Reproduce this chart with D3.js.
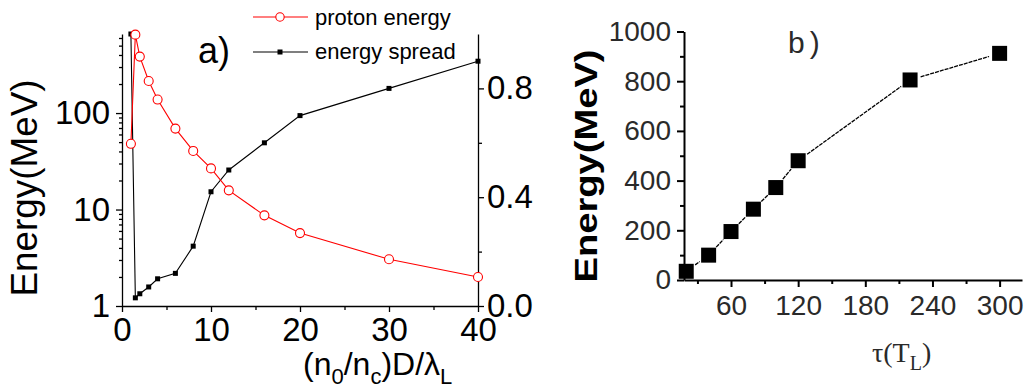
<!DOCTYPE html>
<html><head><meta charset="utf-8">
<script src="https://cdn.jsdelivr.net/npm/d3@7"></script>
<style>
html,body{margin:0;padding:0;background:#fff;}
svg{display:block;font-family:"Liberation Sans",Arial,sans-serif;}
</style></head><body>
<svg id="c" width="1029" height="392"></svg>
<script>
// ---- Panel a) data ----
const ratioX = [1, 1.5, 2, 3, 4, 6, 8, 10, 12, 16, 20, 30, 40];
const protonEnergy = [48, 650, 385, 215, 138, 69, 40.5, 26.7, 15.8, 8.7, 5.7, 3.05, 2.0];
const energySpread = [1.0, 0.03, 0.045, 0.07, 0.10, 0.12, 0.22, 0.42, 0.50, 0.60, 0.70, 0.80, 0.90];
const leftXTicks = [0, 10, 20, 30, 40];
const leftXMinor = [5, 15, 25, 35];
const leftYTicks = [1, 10, 100];
const leftYMinor = [2,3,4,5,6,7,8,9,20,30,40,50,60,70,80,90,200,300,400,500,600];
const rightYTicks = [0.0, 0.4, 0.8];
const rightYMinor = [0.2, 0.6];
const legendLabels = ["proton energy", "energy spread"];
// ---- Panel b) data ----
const pulseTau = [20, 40, 60, 80, 100, 120, 220, 300];
const pulseEnergy = [35, 100, 195, 285, 372, 480, 805, 912];
const tauTicks = [60, 120, 180, 240, 300];
const tauMinor = [30, 90, 150, 210, 270];
const energyTicks = [0, 200, 400, 600, 800, 1000];
const energyMinor = [100, 300, 500, 700, 900];

const svg = d3.select("#c");
const RED = "#ff0000";

// ================= Panel a =================
const xA = d3.scaleLinear().domain([0, 40]).range([122, 478]);
const yL = d3.scaleLog().domain([1, 660]).range([306, 34]);
const yR = d3.scaleLinear().domain([0, 1.0]).range([306, 34]);

const gA = svg.append("g");

function styleAxis(g, fs, sw) {
  g.select(".domain").attr("stroke", "#000").attr("stroke-width", sw);
  g.selectAll(".tick line").attr("stroke", "#000").attr("stroke-width", sw);
  g.selectAll(".tick text").attr("fill", "#000").style("font-size", fs + "px")
    .style("font-family", '"Liberation Sans",Arial,sans-serif');
}

// bottom axis
const axB = gA.append("g").attr("transform", "translate(0,306)")
  .call(d3.axisBottom(xA).tickValues(leftXTicks).tickSize(6).tickSizeOuter(0).tickPadding(6).tickFormat(d3.format("d")));
styleAxis(axB, 33, 1.3);
const axBm = gA.append("g").attr("transform", "translate(0,306)")
  .call(d3.axisBottom(xA).tickValues(leftXMinor).tickSize(4).tickSizeOuter(0).tickFormat(""));
styleAxis(axBm, 33, 1.3);
axBm.select(".domain").remove();

// left axis
const axL = gA.append("g").attr("transform", "translate(122,0)")
  .call(d3.axisLeft(yL).tickValues(leftYTicks).tickSize(6).tickSizeOuter(0).tickPadding(6).tickFormat(d3.format("d")));
styleAxis(axL, 33, 1.3);
const axLm = gA.append("g").attr("transform", "translate(122,0)")
  .call(d3.axisLeft(yL).tickValues(leftYMinor).tickSize(3).tickSizeOuter(0).tickFormat(""));
styleAxis(axLm, 33, 1.3);
axLm.select(".domain").remove();

// right axis
const axR = gA.append("g").attr("transform", "translate(478,0)")
  .call(d3.axisRight(yR).tickValues(rightYTicks).tickSize(6).tickSizeOuter(0).tickPadding(3).tickFormat(d3.format(".1f")));
styleAxis(axR, 33, 1.3);
const axRm = gA.append("g").attr("transform", "translate(478,0)")
  .call(d3.axisRight(yR).tickValues(rightYMinor).tickSize(4).tickSizeOuter(0).tickFormat(""));
styleAxis(axRm, 33, 1.3);
axRm.select(".domain").remove();

// energy spread line + squares
const spreadPts = ratioX.map((x, i) => [x, energySpread[i]]);
gA.append("path").datum(spreadPts)
  .attr("fill", "none").attr("stroke", "#000").attr("stroke-width", 1.1)
  .attr("d", d3.line().x(d => xA(d[0])).y(d => yR(d[1])));
gA.selectAll("rect.sp").data(spreadPts).enter().append("rect")
  .attr("x", d => xA(d[0]) - 2.5).attr("y", d => yR(d[1]) - 2.5)
  .attr("width", 5).attr("height", 5).attr("fill", "#000");

// proton energy line + circles
const protPts = ratioX.map((x, i) => [x, protonEnergy[i]]);
gA.append("path").datum(protPts)
  .attr("fill", "none").attr("stroke", RED).attr("stroke-width", 1.1)
  .attr("d", d3.line().x(d => xA(d[0])).y(d => yL(d[1])));
gA.selectAll("circle.pe").data(protPts).enter().append("circle")
  .attr("cx", d => xA(d[0])).attr("cy", d => yL(d[1])).attr("r", 4.5)
  .attr("fill", "#fff").attr("stroke", RED).attr("stroke-width", 1.1);

// legend
const lg = gA.append("g");
[0, 1].forEach(i => {
  const ly = i === 0 ? 17 : 52;
  lg.append("line").attr("x1", 253).attr("x2", 308).attr("y1", ly).attr("y2", ly)
    .attr("stroke", i === 0 ? RED : "#000").attr("stroke-width", 1.1);
  if (i === 0) {
    lg.append("circle").attr("cx", 280).attr("cy", ly).attr("r", 4.2)
      .attr("fill", "#fff").attr("stroke", RED).attr("stroke-width", 1.1);
  } else {
    lg.append("rect").attr("x", 277.5).attr("y", ly - 2.5).attr("width", 5).attr("height", 5).attr("fill", "#000");
  }
  lg.append("text").attr("x", 315).attr("y", i === 0 ? 25 : 59)
    .style("font-size", "22px").attr("fill", "#000").text(legendLabels[i]);
});

// panel label a)
gA.append("text").attr("x", 198).attr("y", 63).style("font-size", "36px").attr("fill", "#000").text("a)");

// y title
gA.append("text").attr("transform", "translate(37,188) rotate(-90)")
  .attr("text-anchor", "middle").style("font-size", "36px").attr("fill", "#000")
  .attr("textLength", 217).attr("lengthAdjust", "spacingAndGlyphs")
  .text("Energy(MeV)");

// x title (n0/nc)D/λL
const xt = gA.append("text").attr("x", 303).attr("y", 375).style("font-size", "32px").attr("fill", "#000");
xt.append("tspan").text("(n");
xt.append("tspan").attr("dy", 9).style("font-size", "22px").text("0");
xt.append("tspan").attr("dy", -9).text("/n");
xt.append("tspan").attr("dy", 9).style("font-size", "22px").text("c");
xt.append("tspan").attr("dy", -9).text(")D/λ");
xt.append("tspan").attr("dy", 9).style("font-size", "22px").text("L");

// ================= Panel b =================
const xB = d3.scaleLinear().domain([18, 320]).range([684, 1022]);
const yB = d3.scaleLinear().domain([0, 1000]).range([280, 31.5]);
const gB = svg.append("g");

const bx = gB.append("g").attr("transform", "translate(0,280)")
  .call(d3.axisBottom(xB).tickValues(tauTicks).tickSize(7).tickSizeOuter(0).tickPadding(8).tickFormat(d3.format("d")));
styleAxis(bx, 28, 2);
bx.selectAll(".tick text").attr("fill", "#2a2a2a");
const bxm = gB.append("g").attr("transform", "translate(0,280)")
  .call(d3.axisBottom(xB).tickValues(tauMinor).tickSize(4).tickSizeOuter(0).tickFormat(""));
styleAxis(bxm, 28, 2);
bxm.select(".domain").remove();

const by = gB.append("g").attr("transform", "translate(684,0)")
  .call(d3.axisLeft(yB).tickValues(energyTicks).tickSize(7).tickSizeOuter(0).tickPadding(6).tickFormat(d3.format("d")));
styleAxis(by, 28, 2);
by.selectAll(".tick text").attr("fill", "#2a2a2a");
const bym = gB.append("g").attr("transform", "translate(684,0)")
  .call(d3.axisLeft(yB).tickValues(energyMinor).tickSize(4).tickSizeOuter(0).tickFormat(""));
styleAxis(bym, 28, 2);
bym.select(".domain").remove();

// connecting line segments with gaps near markers
const bPts = pulseTau.map((t, i) => [xB(t), yB(pulseEnergy[i])]);
for (let i = 0; i < bPts.length - 1; i++) {
  const [x1, y1] = bPts[i], [x2, y2] = bPts[i + 1];
  const dx = x2 - x1, dy = y2 - y1, L = Math.hypot(dx, dy), g = 11;
  if (L <= 2 * g) continue;
  const ux = dx / L, uy = dy / L;
  gB.append("path").datum([[x1 + ux * g, y1 + uy * g], [x2 - ux * g, y2 - uy * g]])
    .attr("fill", "none").attr("stroke", "#000").attr("stroke-width", 1.3)
    .attr("stroke-dasharray", "4,1")
    .attr("d", d3.line());
}
gB.selectAll("rect.pb").data(pulseTau.map((t, i) => [t, pulseEnergy[i]])).enter().append("rect")
  .attr("x", d => xB(d[0]) - 7.5).attr("y", d => yB(d[1]) - 7.5)
  .attr("width", 15).attr("height", 15).attr("fill", "#000");

// b) label
gB.append("text").attr("x", 788).attr("y", 53).style("font-size", "30px").attr("fill", "#2a2a2a")
  .style("letter-spacing", "5px").text("b)");

// y title (bold)
gB.append("text").attr("transform", "translate(597,166) rotate(-90)")
  .attr("text-anchor", "middle").style("font-size", "32px").style("font-weight", "bold").attr("fill", "#000")
  .attr("textLength", 233).attr("lengthAdjust", "spacingAndGlyphs")
  .text("Energy(MeV)");

// x title τ(TL)
const bt = gB.append("text").attr("x", 872).attr("y", 362).style("font-size", "28px")
  .style("font-family", '"Liberation Serif","Times New Roman",serif').attr("fill", "#2a2a2a");
bt.append("tspan").text("τ(T");
bt.append("tspan").attr("dy", 8).style("font-size", "20px").text("L");
bt.append("tspan").attr("dy", -8).text(")");
</script>
</body></html>
